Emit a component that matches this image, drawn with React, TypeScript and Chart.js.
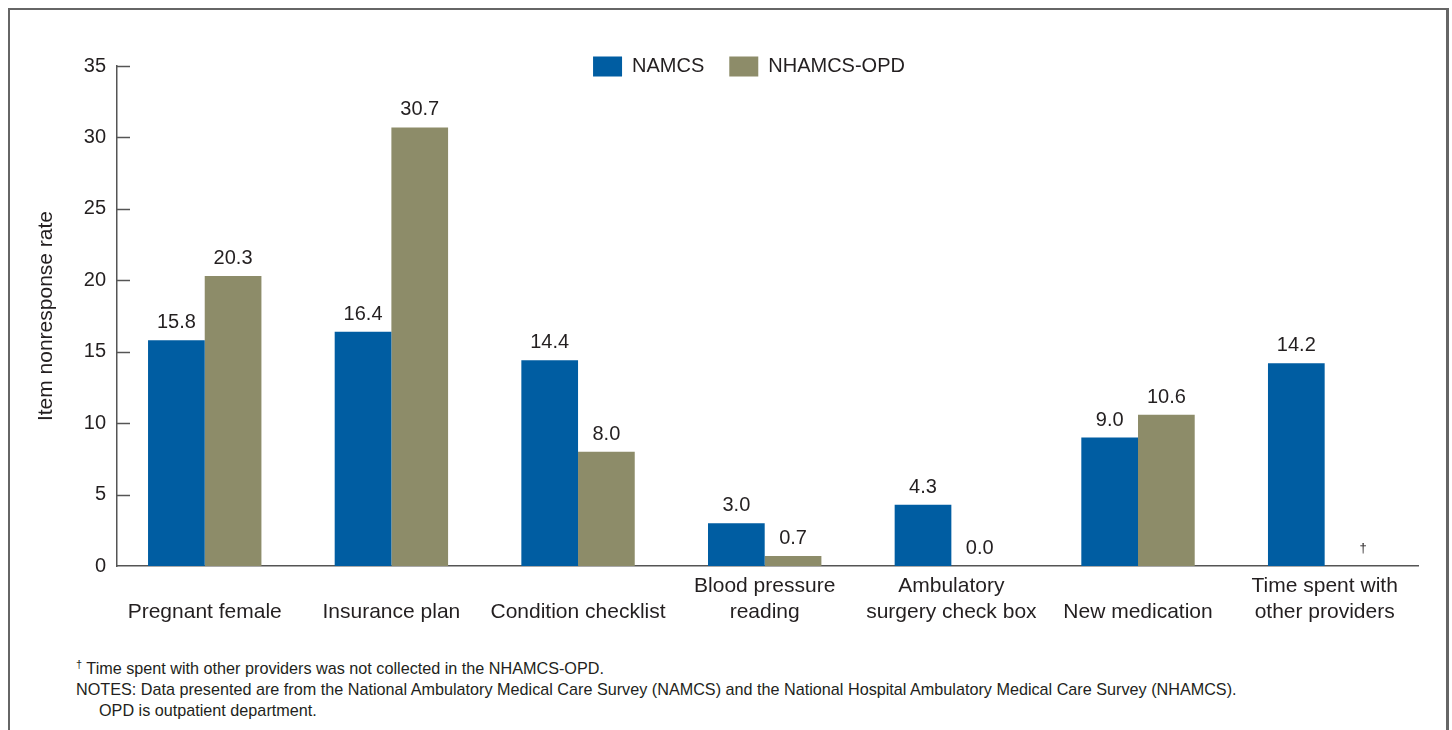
import React, { useEffect, useRef } from 'react';
import { Chart, registerables } from 'chart.js';

Chart.register(...registerables);

// ---- data ----
const categories: string[][] = [
  ['', 'Pregnant female'],
  ['', 'Insurance plan'],
  ['', 'Condition checklist'],
  ['Blood pressure', 'reading'],
  ['Ambulatory', 'surgery check box'],
  ['', 'New medication'],
  ['Time spent with', 'other providers'],
];
const seriesNames = ['NAMCS', 'NHAMCS-OPD'];
const namcs: number[] = [15.8, 16.4, 14.4, 3.0, 4.3, 9.0, 14.2];
const nhamcsOpd: (number | null)[] = [20.3, 30.7, 8.0, 0.7, 0.0, 10.6, null];
const yTicks: number[] = [0, 5, 10, 15, 20, 25, 30, 35];
const yTitle = 'Item nonresponse rate';
const missingMark = '\u2020';
const footnoteMissing = 'Time spent with other providers was not collected in the NHAMCS-OPD.';
const notesLines: string[] = [
  'NOTES: Data presented are from the National Ambulatory Medical Care Survey (NAMCS) and the National Hospital Ambulatory Medical Care Survey (NHAMCS).',
  'OPD is outpatient department.',
];

// ---- styles ----
const FONT = '"Liberation Sans", Arial, Helvetica, sans-serif';
const TEXT = '#231f20';
const AXIS = '#555555';
const BLUE = '#005da2';
const OLIVE = '#8d8c69';

export default function App() {
  const canvasRef = useRef<HTMLCanvasElement | null>(null);

  useEffect(() => {
    const canvas = canvasRef.current;
    if (!canvas) return;

    const valueLabels = {
      id: 'valueLabels',
      afterDatasetsDraw(chart: any) {
        const ctx = chart.ctx;
        const yScale = chart.scales.y;
        ctx.save();
        ctx.fillStyle = TEXT;
        ctx.textAlign = 'center';
        ctx.textBaseline = 'alphabetic';
        chart.data.datasets.forEach((ds: any, di: number) => {
          const meta = chart.getDatasetMeta(di);
          meta.data.forEach((el: any, i: number) => {
            const v = ds.data[i].y;
            if (v === null || v === undefined) {
              ctx.font = `13px ${FONT}`;
              ctx.fillText(missingMark, el.x + 10, yScale.getPixelForValue(0) - 14);
            } else {
              ctx.font = `20px ${FONT}`;
              ctx.fillText(v.toFixed(1), el.x, yScale.getPixelForValue(v) - 12);
            }
          });
        });
        ctx.restore();
      },
    };

    const innerTicks = {
      id: 'innerTicks',
      afterDraw(chart: any) {
        const ctx = chart.ctx;
        const yScale = chart.scales.y;
        const left = chart.chartArea.left;
        ctx.save();
        ctx.strokeStyle = AXIS;
        ctx.lineWidth = 1.5;
        yTicks.forEach((t) => {
          if (t === 0) return;
          const y = Math.round(yScale.getPixelForValue(t)) + 0.5;
          ctx.beginPath();
          ctx.moveTo(left, y);
          ctx.lineTo(left + 13, y);
          ctx.stroke();
        });
        ctx.restore();
      },
    };

    const legendPlace = {
      id: 'legendPlace',
      afterLayout(chart: any) {
        const lg = chart.legend;
        if (!lg) return;
        lg.left += 35;
        lg.right += 35;
        lg.top = 21.5;
        lg.bottom = lg.top + lg.height;
      },
    };

    const chart = new Chart(canvas, {
      type: 'bar',
      data: {
        datasets: [
          {
            label: seriesNames[0],
            data: namcs.map((v, i) => ({ x: i, y: v })),
            backgroundColor: BLUE,
            categoryPercentage: 0.6075,
            barPercentage: 1,
          },
          {
            label: seriesNames[1],
            data: nhamcsOpd.map((v, i) => ({ x: i, y: v })),
            backgroundColor: OLIVE,
            categoryPercentage: 0.6075,
            barPercentage: 1,
          },
        ] as any,
      },
      options: {
        animation: false,
        responsive: false,
        maintainAspectRatio: false,
        layout: { padding: { left: 0, right: 28, top: 1, bottom: 6.5 } },
        plugins: {
          legend: {
            position: 'top',
            align: 'center',
            labels: {
              boxWidth: 29,
              boxHeight: 20,
              padding: 25,
              color: TEXT,
              font: { size: 20, family: FONT },
            },
          },
          tooltip: { enabled: false },
        },
        scales: {
          x: {
            type: 'linear',
            offset: false,
            min: -0.47,
            max: 6.5,
            grid: { display: false, drawTicks: false, offset: false },
            border: { display: true, color: AXIS, width: 1.5 },
            afterBuildTicks: (s: any) => {
              s.ticks = categories.map((_, i) => ({ value: i }));
            },
            ticks: {
              autoSkip: false,
              maxRotation: 0,
              minRotation: 0,
              padding: 8,
              color: TEXT,
              font: { size: 21, family: FONT },
              callback: (v: any) => categories[v as number],
            },
          },
          y: {
            min: 0,
            max: 35,
            afterBuildTicks: (s: any) => {
              s.ticks = yTicks.map((t) => ({ value: t }));
            },
            grid: { display: false, drawTicks: false },
            border: { display: true, color: AXIS, width: 1.5 },
            ticks: {
              padding: 11,
              color: TEXT,
              font: { size: 20, family: FONT },
            },
            title: {
              display: true,
              text: yTitle,
              color: TEXT,
              font: { size: 21, family: FONT },
              padding: { top: 24, bottom: 0 },
            },
            afterFit: (s: any) => {
              s.width = 107;
            },
          },
        },
      } as any,
      plugins: [valueLabels, innerTicks, legendPlace],
    });

    return () => chart.destroy();
  }, []);

  return (
    <div
      style={{
        position: 'absolute',
        left: 8,
        top: 8,
        width: 1441,
        height: 722,
        boxSizing: 'border-box',
        borderTop: '2px solid #666',
        borderLeft: '2px solid #666',
        borderRight: '3px solid #666',
        background: '#fff',
        fontFamily: FONT,
        color: TEXT,
      }}
    >
      <canvas
        ref={canvasRef}
        width={1436}
        height={629}
        style={{ position: 'absolute', left: 0, top: 0, width: 1436, height: 629 }}
      />
      <div style={{ position: 'absolute', left: 66, top: 648, fontSize: 16.2, lineHeight: '21px', whiteSpace: 'nowrap' }}>
        <div>
          <sup style={{ fontSize: 11, verticalAlign: 'top', position: 'relative', top: -4 }}>{missingMark}</sup>{' '}
          {footnoteMissing}
        </div>
        <div>{notesLines[0]}</div>
        <div style={{ paddingLeft: 23 }}>{notesLines[1]}</div>
      </div>
    </div>
  );
}
